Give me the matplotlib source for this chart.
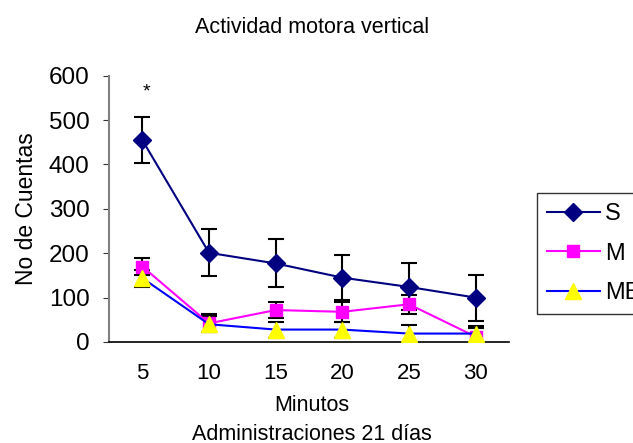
import matplotlib
matplotlib.use("Agg")
import matplotlib.pyplot as plt
import numpy as np

plt.rcParams['font.family'] = ['Liberation Sans', 'DejaVu Sans']

minutes = ["5", "10", "15", "20", "25", "30"]
s_vals = [455, 201, 177, 145, 124, 100]
s_err = [52, 53, 54, 51, 53, 52]
m_vals = [170, 42, 72, 68, 85, 12]
m_err = [20, 20, 19, 22, 21, 20]
mb_vals = [144, 40, 28, 28, 19, 19]
mb_err = [19, 18, 18, 18, 19, 18]
y_ticks = [0, 100, 200, 300, 400, 500, 600]

fig = plt.figure(figsize=(6.33, 4.43), dpi=100)
ax = fig.add_axes([109/633, 1 - 342/443, 400/633, (342 - 75.7)/443])
x = np.arange(len(minutes))

series = [
    ("S", s_vals, s_err, "#000080", "#000080", "D", 9),
    ("M", m_vals, m_err, "#FF00FF", "#FF00FF", "s", 8.5),
    ("MB", mb_vals, mb_err, "#0000FF", "#FFFF00", "^", 11),
]
for label, vals, err, lc, mc, mk, ms in series:
    ax.errorbar(x, vals, yerr=err, fmt="none", ecolor="black", elinewidth=1.5,
                capsize=6, capthick=1.5, zorder=2)
    ax.plot(x, vals, color=lc, lw=1.5, marker=mk, markersize=ms,
            markerfacecolor=mc, markeredgecolor=mc, label=label, zorder=3)

ax.text(x[0] + 0.06, 563, "*", ha="center", va="center", fontsize=14)

ax.set_xlim(-0.5, len(minutes) - 0.5)
ax.set_ylim(0, 600)
ax.set_yticks(y_ticks)
ax.set_xticks(x)
ax.set_xticklabels(minutes)
ax.tick_params(axis="y", labelsize=17.5, length=4, color="#333333", pad=10)
ax.tick_params(axis="x", labelsize=16, length=0, pad=15)
for sp in ["top", "right"]:
    ax.spines[sp].set_visible(False)
ax.spines["left"].set_color("#808080")
ax.spines["left"].set_linewidth(1.5)
ax.spines["bottom"].set_color("black")
ax.spines["bottom"].set_linewidth(1.2)

ax.set_ylabel("No de Cuentas", fontsize=16.5, labelpad=8)
fig.text(312/633, (443 - 33.3)/443, "Actividad motora vertical", ha="center", va="baseline", fontsize=15.5)
fig.text(312/633, (443 - 410.7)/443, "Minutos", ha="center", va="baseline", fontsize=15.5)
fig.text(312/633, (443 - 439.5)/443, "Administraciones 21 días", ha="center", va="baseline", fontsize=15.5)

leg = ax.legend(loc="upper left", bbox_to_anchor=(537/633, 1 - 193/443),
                bbox_transform=fig.transFigure, fontsize=17, frameon=True,
                fancybox=False, edgecolor="black", handlelength=2.25,
                handletextpad=0.2, labelspacing=0.75, borderpad=0.42,
                borderaxespad=0)
leg.get_frame().set_linewidth(1.0)

fig.savefig("out.png", dpi=100)
